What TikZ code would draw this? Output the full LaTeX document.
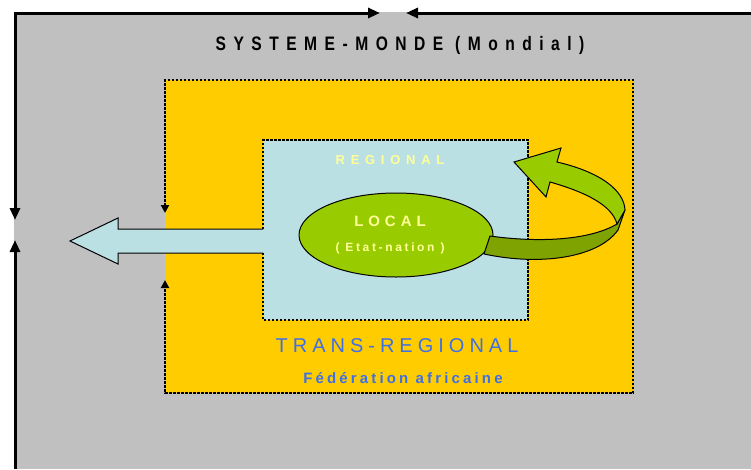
\documentclass[tikz,border=0pt]{standalone}
\usepackage{fontspec}
\setmainfont{Liberation Sans}
\usetikzlibrary{arrows.meta,shapes.geometric}
\definecolor{bggray}{HTML}{C0C0C0}
\definecolor{boxyellow}{HTML}{FFCC00}
\definecolor{boxblue}{HTML}{BBE0E3}
\definecolor{lgreen}{HTML}{99CC00}
\definecolor{dgreen}{HTML}{7FA300}
\definecolor{txtblue}{HTML}{3F6FE8}
\definecolor{paleyellow}{HTML}{FFFF99}
\tikzset{
  frameline/.style={line width=3pt, line join=miter},
  dotline/.style={line width=2pt, dash pattern=on 2.5pt off 1.5pt},
  bigtip/.tip={Triangle[length=12pt,width=10pt]},
  smalltip/.tip={Triangle[length=8pt,width=8pt]},
  txt/.style={inner sep=0pt, anchor=center},
}
\begin{document}
\begin{tikzpicture}[x=1pt,y=-1pt]
\useasboundingbox (0,0) rectangle (751,469);
% gray world
\fill[bggray] (14,12) rectangle (751,469);
\draw[frameline,{bigtip}-{bigtip}] (15,220) -- (15,13) -- (380,13);
\draw[frameline,-{bigtip}] (751,13) -- (406,13);
\draw[frameline,-{bigtip}] (15,469) -- (15,240);
\node[txt] (monde) at (400,45) {\scalebox{0.8}[1]{\fontsize{19.5}{22}\selectfont\bfseries\addfontfeatures{LetterSpace=48}SYSTEME-MONDE (Mondial)}};
% trans-regional box
\fill[boxyellow] (165,80) rectangle (633,393);
\draw[dotline,{smalltip}-{smalltip}] (165,213) -- (165,80) -- (633,80) -- (633,393) -- (165,393) -- (165,280);
\node[txt, text=txtblue] (trans) at (397,346) {\fontsize{20}{24}\selectfont\addfontfeatures{LetterSpace=25}TRANS-REGIONAL};
\node[txt, text=txtblue] (fed) at (403,378) {\fontsize{15}{18}\selectfont\bfseries\addfontfeatures{LetterSpace=21}Fédération africaine};
% regional box
\fill[boxblue] (263,140) rectangle (528,320);
\fill[boxblue] (263,229) -- (118,229) -- (118,218) -- (70,241) -- (118,264) -- (118,253) -- (263,253) -- cycle;
\draw[line width=1pt] (263,229) -- (118,229) -- (118,218) -- (70,241) -- (118,264) -- (118,253) -- (263,253);
\draw[dotline] (263,229) -- (263,140) -- (528,140) -- (528,320) -- (263,320) -- (263,253);
\node[txt, text=paleyellow] (regional) at (390,160) {\fontsize{13}{15}\selectfont\bfseries\addfontfeatures{LetterSpace=44}REGIONAL};
% local
\node[draw, line width=1pt, fill=lgreen, ellipse, minimum width=194pt, minimum height=84pt, inner sep=0pt] (local) at (396,235) {};
\node[txt, text=paleyellow] (localtxt) at (390,221) {\fontsize{15}{18}\selectfont\bfseries\addfontfeatures{LetterSpace=33}LOCAL};
\node[txt, text=paleyellow] (etat) at (390,248) {\fontsize{12}{14}\selectfont\bfseries\addfontfeatures{LetterSpace=22}( Etat-nation )};
% curved arrow
\filldraw[fill=dgreen, draw=black, line width=1pt, line join=round]
  (490,236) .. controls (540,243) and (590,240) .. (617,224) -- (625,210) -- (618,230)
  .. controls (598,258) and (540,266) .. (484,254) -- cycle;
\filldraw[fill=lgreen, draw=black, line width=1pt, line join=miter]
  (625,210) .. controls (624,190) and (600,172) .. (557,162) -- (561,148) -- (514,162) -- (546,197) -- (550,182)
  .. controls (585,192) and (612,205) .. (617,224) -- cycle;
\end{tikzpicture}
\end{document}
